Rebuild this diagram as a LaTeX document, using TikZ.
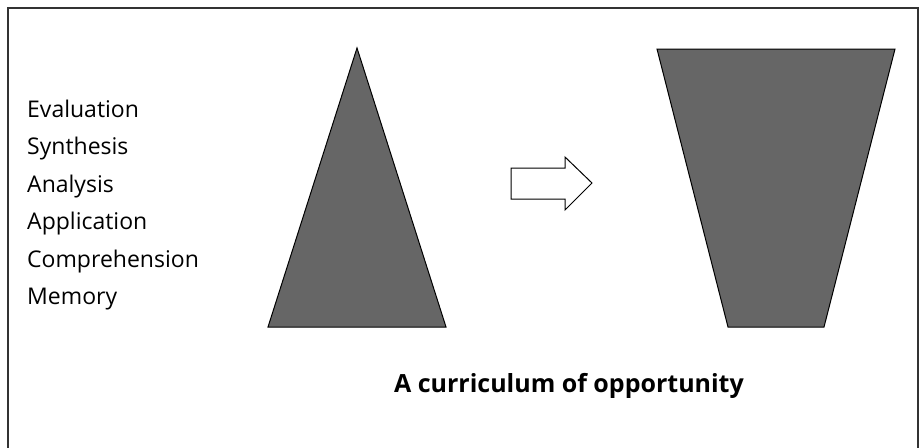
\documentclass[tikz,border=0pt]{standalone}
\usepackage{fontspec}
\setmainfont{Open Sans}

\begin{document}
\begin{tikzpicture}[x=1pt, y=-1pt,
  level/.style={anchor=base west, inner sep=0pt, font=\fontsize{23}{27}\selectfont},
  solid/.style={draw=black, line width=1pt, fill=black!60, line join=miter}]

  \useasboundingbox (0,0) rectangle (923,447);

  % frame, open at the bottom
  \draw[line width=1.5pt, black!80] (8,452) -- (8,8) -- (918,8) -- (918,452);

  % levels
  \node[level] (eval)  at (27,117) {Evaluation};
  \node[level] (synth) at (27,154) {Synthesis};
  \node[level] (anal)  at (27,192) {Analysis};
  \node[level] (appl)  at (27,229) {Application};
  \node[level] (comp)  at (27,267) {Comprehension};
  \node[level] (mem)   at (27,304) {Memory};

  % pyramid
  \draw[solid] (357,48) -- (446,327) -- (268,327) -- cycle;

  % block arrow
  \draw[line width=1pt, fill=white]
    (511,168) -- (565,168) -- (565,157) -- (592,183)
    -- (565,210) -- (565,199) -- (511,199) -- cycle;

  % inverted pyramid
  \draw[solid] (657,49) -- (895,49) -- (824,327) -- (728,327) -- cycle;

  \node[anchor=base, inner sep=0pt, font=\fontsize{25}{29}\selectfont\bfseries]
    (title) at (569,392) {A curriculum of opportunity};
\end{tikzpicture}
\end{document}
